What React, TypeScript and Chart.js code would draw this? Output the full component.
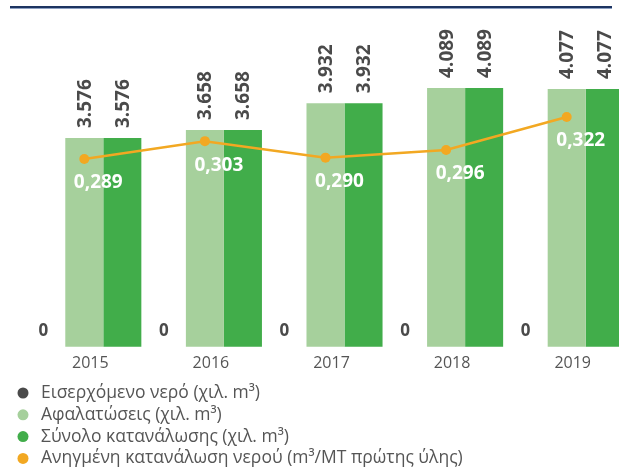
import React, { useEffect, useRef } from "react";
import { Chart, registerables } from "chart.js";

Chart.register(...registerables);

// ---- data ----
const years = ["2015", "2016", "2017", "2018", "2019"];
const incomingWater = [0, 0, 0, 0, 0];
const desalination = [3576, 3658, 3932, 4089, 4077];
const totalConsumption = [3576, 3658, 3932, 4089, 4077];
const specificConsumption = [0.289, 0.303, 0.29, 0.296, 0.322];
const seriesNames = [
  "Εισερχόμενο νερό (χιλ. m³)",
  "Αφαλατώσεις (χιλ. m³)",
  "Σύνολο κατανάλωσης (χιλ. m³)",
  "Ανηγμένη κατανάλωση νερού (m³/MT πρώτης ύλης)",
];
const seriesColors = ["#4a4a4a", "#a6d09c", "#41ad4a", "#f2a822"];

const FONT = "'Open Sans', 'Noto Sans', sans-serif";

const fmtThousands = (v: number) =>
  String(Math.round(v)).replace(/\B(?=(\d{3})+(?!\d))/g, ".");
const fmtDecimal = (v: number) => v.toFixed(3).replace(".", ",");

const labelPlugin = {
  id: "valueLabels",
  afterDatasetsDraw(chart: any) {
    const ctx = chart.ctx;
    const bottom = chart.chartArea.bottom;
    ctx.save();
    chart.data.datasets.forEach((ds: any, di: number) => {
      const meta = chart.getDatasetMeta(di);
      if (meta.hidden) return;
      meta.data.forEach((el: any, i: number) => {
        const v = ds.data[i];
        if (ds.type === "line") {
          ctx.font = `bold 19px ${FONT}`;
          ctx.fillStyle = "#ffffff";
          ctx.textAlign = "center";
          ctx.textBaseline = "middle";
          ctx.fillText(fmtDecimal(v), el.x + 14, el.y + 24);
        } else if (v === 0) {
          ctx.font = `bold 17px ${FONT}`;
          ctx.fillStyle = "#4a4a4a";
          ctx.textAlign = "center";
          ctx.textBaseline = "middle";
          ctx.fillText("0", el.x - 3, bottom - 16);
        } else {
          ctx.save();
          ctx.translate(el.x, el.y - 10);
          ctx.rotate(-Math.PI / 2);
          ctx.font = `bold 19px ${FONT}`;
          ctx.fillStyle = "#4a4a4a";
          ctx.textAlign = "left";
          ctx.textBaseline = "middle";
          ctx.fillText(fmtThousands(v), 0, 1);
          ctx.restore();
        }
      });
    });
    ctx.restore();
  },
};

const legendPlugin = {
  id: "stackedLegend",
  afterDraw(chart: any) {
    const ctx = chart.ctx;
    ctx.save();
    ctx.font = `17.5px ${FONT}`;
    ctx.textBaseline = "middle";
    ctx.textAlign = "left";
    chart.data.datasets.forEach((ds: any, i: number) => {
      const y = 393 + i * 21.8;
      ctx.beginPath();
      ctx.arc(23, y, 5.5, 0, Math.PI * 2);
      ctx.fillStyle = ds.legendColor;
      ctx.fill();
      ctx.fillStyle = "#555555";
      ctx.fillText(ds.label, 41, y);
    });
    ctx.restore();
  },
};

export default function App() {
  const ref = useRef<HTMLCanvasElement | null>(null);

  useEffect(() => {
    if (!ref.current) return;
    const chart = new Chart(ref.current, {
      type: "bar",
      data: {
        labels: years,
        datasets: [
          {
            type: "bar",
            label: seriesNames[0],
            data: incomingWater,
            yAxisID: "y",
            backgroundColor: seriesColors[0],
            order: 1,
            legendColor: seriesColors[0],
          } as any,
          {
            type: "bar",
            label: seriesNames[1],
            data: desalination,
            yAxisID: "y",
            backgroundColor: seriesColors[1],
            order: 1,
            legendColor: seriesColors[1],
          } as any,
          {
            type: "bar",
            label: seriesNames[2],
            data: totalConsumption,
            yAxisID: "y",
            backgroundColor: seriesColors[2],
            order: 1,
            legendColor: seriesColors[2],
          } as any,
          {
            type: "line",
            label: seriesNames[3],
            data: specificConsumption,
            yAxisID: "y1",
            borderColor: seriesColors[3],
            backgroundColor: seriesColors[3],
            borderWidth: 2.5,
            pointRadius: 5,
            pointBorderWidth: 0,
            pointBackgroundColor: seriesColors[3],
            tension: 0,
            order: 0,
            legendColor: seriesColors[3],
          } as any,
        ],
      },
      options: {
        responsive: false,
        animation: false,
        layout: { padding: { left: 24, right: 13, top: 18, bottom: 89 } },
        datasets: {
          bar: { barPercentage: 1, categoryPercentage: 0.946, borderWidth: 0 },
        },
        plugins: {
          legend: { display: false },
          tooltip: { enabled: false },
        },
        scales: {
          x: {
            grid: { display: false, drawTicks: false },
            border: { display: false },
            ticks: {
              font: { family: FONT, size: 16 },
              color: "#555555",
              padding: 7,
              labelOffset: 6,
            },
          },
          y: {
            display: false,
            min: 1440,
            max: 4804,
          },
          y1: {
            display: false,
            min: 0.141,
            max: 0.4,
          },
        },
      } as any,
      plugins: [labelPlugin, legendPlugin],
    });
    return () => chart.destroy();
  }, []);

  return (
    <div
      style={{
        position: "absolute",
        left: 0,
        top: 0,
        width: 619,
        height: 469,
        overflow: "hidden",
        background: "#ffffff",
      }}
    >
      <canvas
        ref={ref}
        width={640}
        height={469}
        style={{ position: "absolute", left: 0, top: 0 }}
      />
      <div
        style={{
          position: "absolute",
          left: 10,
          top: 6,
          width: 602,
          height: 2,
          background: "#1d3461",
          borderBottom: "1px solid #8da0c2",
        }}
      />
    </div>
  );
}
